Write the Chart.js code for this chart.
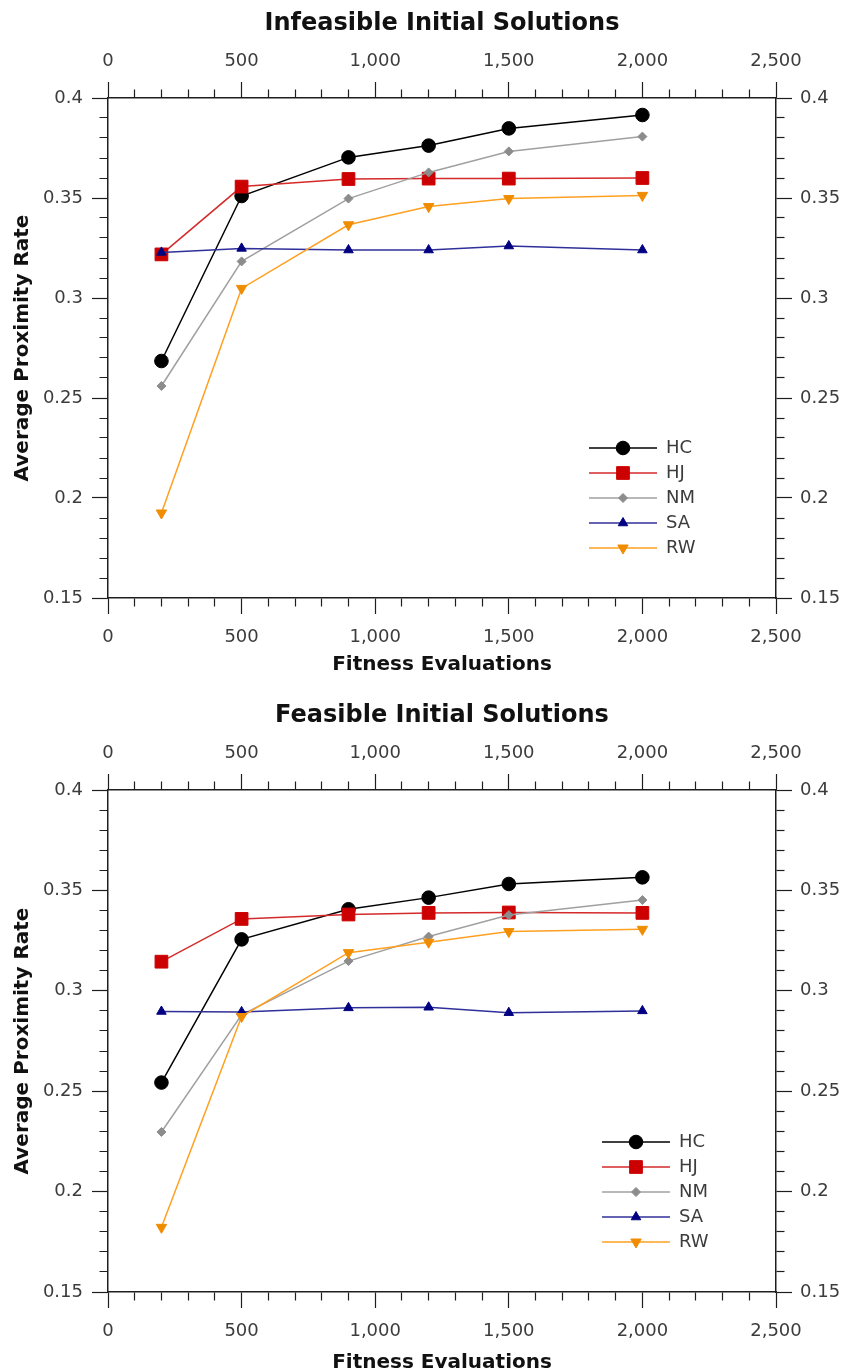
<!DOCTYPE html>
<html>
<head>
<meta charset="utf-8">
<script src="https://cdn.jsdelivr.net/npm/chart.js@4/dist/chart.umd.min.js"></script>
<style>
  body { margin: 0; background: #fff; }
  .panel { position: relative; width: 849px; }
</style>
</head>
<body>
<div class="panel" style="height:692px"><canvas id="infeasibleChart"></canvas></div>
<div class="panel" style="height:680px"><canvas id="feasibleChart"></canvas></div>
<script>
// fitness evaluations at which each method was sampled
var evaluations = [200, 500, 900, 1200, 1500, 2000];
var methods = ['HC', 'HJ', 'NM', 'SA', 'RW'];

// Infeasible initial solutions
var infeasibleHC = [0.2685, 0.3510, 0.3703, 0.3762, 0.3848, 0.3915];
var infeasibleHJ = [0.3218, 0.3557, 0.3595, 0.3597, 0.3597, 0.3600];
var infeasibleNM = [0.2560, 0.3183, 0.3497, 0.3628, 0.3733, 0.3807];
var infeasibleSA = [0.3228, 0.3248, 0.3240, 0.3240, 0.3260, 0.3240];
var infeasibleRW = [0.1925, 0.3048, 0.3366, 0.3457, 0.3497, 0.3513];

// Feasible initial solutions
var feasibleHC = [0.2543, 0.3256, 0.3406, 0.3464, 0.3532, 0.3565];
var feasibleHJ = [0.3145, 0.3358, 0.3380, 0.3388, 0.3390, 0.3388];
var feasibleNM = [0.2297, 0.2880, 0.3148, 0.3270, 0.3377, 0.3452];
var feasibleSA = [0.2897, 0.2895, 0.2915, 0.2918, 0.2891, 0.2900];
var feasibleRW = [0.1822, 0.2872, 0.3190, 0.3242, 0.3295, 0.3306];

var xTickLabels = ['0', '500', '1,000', '1,500', '2,000', '2,500'];
var yTickLabels = ['0.15', '0.2', '0.25', '0.3', '0.35', '0.4'];

var looks = [
  { fill: '#000000', line: '#000000', shape: 'circle',   radius: 6.8, rotation: 0 },
  { fill: '#cc0000', line: '#d42a2a', shape: 'rect',     radius: 9,   rotation: 0 },
  { fill: '#8c8c8c', line: '#a0a0a0', shape: 'rectRot',  radius: 4.5, rotation: 0 },
  { fill: '#000080', line: '#30309a', shape: 'triangle', radius: 5.5, rotation: 0 },
  { fill: '#f08c00', line: '#ffa020', shape: 'triangle', radius: 6,   rotation: 180 }
];

var axisColor = '#1e1e1e';
var labelColor = '#3c3c3c';
Chart.defaults.font.family = "'DejaVu Sans', 'Liberation Sans', sans-serif";

function xMajor(v) { return Math.round(v) % 500 === 0; }
function yMajor(v) { return Math.round(v * 100) % 5 === 0; }

function xLabel(v) { return xMajor(v) ? xTickLabels[Math.round(v) / 500] : ''; }
function yLabel(v) { return yMajor(v) ? yTickLabels[Math.round(v * 100) / 5 - 3] : ''; }

// minor ticks are the same line, dashed down to a short stub next to the axis
function dashFor(isMajor, outward) {
  return function (c) {
    if (!c.tick || isMajor(c.tick.value)) return [];
    return outward ? [8, 100] : [0, 7.5, 9, 100];
  };
}

function axisGrid(isMajor, outward) {
  return {
    drawOnChartArea: false,
    tickLength: 16,
    tickColor: axisColor,
    tickWidth: 1.2,
    tickBorderDash: dashFor(isMajor, outward)
  };
}

// places the legend inside the plot and puts each series' marker on its line
function legendInside(left, top) {
  return {
    id: 'legendInside',
    beforeDraw: function (chart) {
      var lg = chart.legend;
      if (!lg) return;
      var w = lg.width, h = lg.height;
      lg.left = left; lg.right = left + w;
      lg.top = top; lg.bottom = top + h;
    },
    afterDraw: function (chart) {
      var lg = chart.legend;
      if (!lg || !lg.legendItems || !Chart.helpers || !Chart.helpers.drawPoint) return;
      var lab = chart.options.plugins.legend.labels;
      var pad = lab.padding, fs = lab.font.size, bw = lab.pointStyleWidth;
      var ctx = chart.ctx;
      lg.legendItems.forEach(function (item, k) {
        var ds = chart.data.datasets[item.datasetIndex];
        var cx = lg.left + pad + bw / 2;
        var cy = lg.top + pad + k * (fs + pad) + fs / 2;
        ctx.save();
        ctx.fillStyle = ds.pointBackgroundColor;
        ctx.strokeStyle = ds.pointBorderColor;
        ctx.lineWidth = 1;
        Chart.helpers.drawPoint(ctx, {
          pointStyle: ds.pointStyle, rotation: ds.pointRotation,
          radius: ds.pointRadius, borderWidth: 1
        }, cx, cy);
        ctx.restore();
      });
    }
  };
}

function makeChart(id, title, series, p) {
  var datasets = methods.map(function (name, i) {
    var lk = looks[i];
    return {
      label: name,
      data: evaluations.map(function (e, j) { return { x: e, y: series[i][j] }; }),
      borderColor: lk.line,
      backgroundColor: lk.fill,
      borderWidth: 1.5,
      pointStyle: lk.shape,
      pointRadius: lk.radius,
      pointRotation: lk.rotation,
      pointBackgroundColor: lk.fill,
      pointBorderColor: lk.fill,
      pointBorderWidth: 1,
      tension: 0,
      order: methods.length - i
    };
  });

  var W = 849;
  return new Chart(document.getElementById(id), {
    type: 'line',
    data: { datasets: datasets },
    plugins: [legendInside(p.legendLeft, p.legendTop)],
    options: {
      responsive: true,
      maintainAspectRatio: false,
      animation: false,
      events: [],
      layout: { padding: 0 },
      plugins: {
        tooltip: { enabled: false },
        title: {
          display: true,
          text: title,
          fullSize: false,
          color: '#111',
          font: { size: 24, weight: 'bold' },
          padding: { top: 9.6, bottom: 0 }
        },
        legend: {
          position: 'chartArea',
          align: 'start',
          labels: {
            usePointStyle: true,
            pointStyleWidth: 68,
            padding: 7,
            color: labelColor,
            font: { size: 18 },
            sort: function (a, b) { return a.datasetIndex - b.datasetIndex; },
            generateLabels: function (chart) {
              var items = Chart.defaults.plugins.legend.labels.generateLabels(chart);
              items.forEach(function (it) {
                it.pointStyle = 'line';
                it.rotation = 0;
                it.lineWidth = 1.5;
                it.strokeStyle = chart.data.datasets[it.datasetIndex].borderColor;
              });
              return items;
            }
          }
        }
      },
      scales: {
        x: {
          type: 'linear', position: 'bottom', min: 0, max: 2500,
          ticks: { stepSize: 100, autoSkip: false, maxRotation: 0, padding: 13,
                   color: labelColor, font: { size: 18 }, callback: xLabel },
          grid: axisGrid(xMajor, true),
          border: { color: axisColor, width: 1.5 },
          title: { display: true, text: 'Fitness Evaluations', color: '#111',
                   font: { size: 20, weight: 'bold', lineHeight: 1 },
                   padding: { top: 0, bottom: p.height - p.xTitleY - 10 } },
          afterFit: function (s) { s.height = p.height - p.plotBottom; }
        },
        x2: {
          type: 'linear', position: 'top', min: 0, max: 2500,
          ticks: { stepSize: 100, autoSkip: false, maxRotation: 0, padding: 10,
                   color: labelColor, font: { size: 18 }, callback: xLabel },
          grid: axisGrid(xMajor, false),
          border: { color: axisColor, width: 1.5 },
          afterFit: function (s) { s.height = p.plotTop - 38.4; }
        },
        y: {
          type: 'linear', position: 'left', min: 0.15, max: 0.4,
          ticks: { stepSize: 0.01, autoSkip: false, padding: 9,
                   color: labelColor, font: { size: 18 }, callback: yLabel },
          grid: axisGrid(yMajor, false),
          border: { color: axisColor, width: 1.5 },
          title: { display: true, text: 'Average Proximity Rate', color: '#111',
                   font: { size: 20, weight: 'bold', lineHeight: 1 },
                   padding: { top: 13, bottom: 0 } },
          afterFit: function (s) { s.width = p.plotLeft; }
        },
        y2: {
          type: 'linear', position: 'right', min: 0.15, max: 0.4,
          ticks: { stepSize: 0.01, autoSkip: false, padding: 8,
                   color: labelColor, font: { size: 18 }, callback: yLabel },
          grid: axisGrid(yMajor, true),
          border: { color: axisColor, width: 1.5 },
          afterFit: function (s) { s.width = W - p.plotRight; }
        }
      }
    }
  });
}

makeChart('infeasibleChart', 'Infeasible Initial Solutions',
  [infeasibleHC, infeasibleHJ, infeasibleNM, infeasibleSA, infeasibleRW],
  { height: 692, plotTop: 98, plotBottom: 598, plotLeft: 108, plotRight: 776,
    xTitleY: 665, legendLeft: 582, legendTop: 432 });

makeChart('feasibleChart', 'Feasible Initial Solutions',
  [feasibleHC, feasibleHJ, feasibleNM, feasibleSA, feasibleRW],
  { height: 680, plotTop: 98, plotBottom: 600, plotLeft: 108, plotRight: 776,
    xTitleY: 671, legendLeft: 595, legendTop: 434 });
</script>
</body>
</html>
